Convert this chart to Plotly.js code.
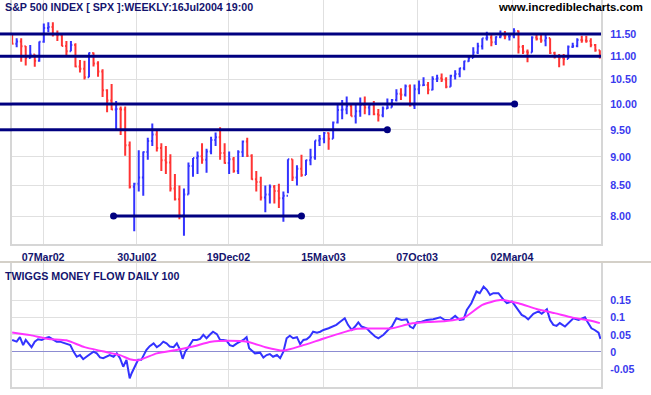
<!DOCTYPE html>
<html><head><meta charset="utf-8">
<script src="https://cdn.plot.ly/plotly-3.0.1.min.js"></script>
<style>html,body{margin:0;padding:0;background:#fff;}#chart{width:651px;height:395px;}</style>
</head><body><div id="chart"></div>
<script>
// ---- weekly S&P 500 bars (index / 100), week ending Fridays from 18 Jan 2002 ----
const firstWeek = '2002-01-18';
const firstOpen = 11.45;
const weekHigh = [
11.50,11.40,11.40,11.23,11.25,11.04,11.33,11.74,11.77,11.77,
11.58,11.50,11.34,11.34,11.29,10.92,10.90,11.08,11.08,10.89,
10.72,10.30,10.41,10.06,9.95,9.95,9.28,8.55,9.12,9.10,
9.35,9.62,9.50,9.25,9.20,9.05,8.70,8.50,8.45,8.90,
8.98,9.10,9.25,9.15,9.37,9.45,9.55,9.25,9.10,9.00,
9.12,9.30,9.35,9.05,8.75,8.65,8.50,8.52,8.51,8.53,
8.40,8.96,8.96,8.85,9.04,8.95,9.15,9.30,9.40,9.46,
9.45,9.66,10.00,10.08,10.15,10.00,10.00,10.13,10.15,10.00,
10.06,9.90,9.95,10.11,10.10,10.30,10.32,10.40,10.40,10.40,
10.48,10.55,10.45,10.57,10.60,10.63,10.55,10.60,10.70,10.75,
10.90,11.00,11.20,11.30,11.40,11.55,11.50,11.45,11.58,11.57,
11.52,11.63,11.58,11.25,11.15,11.45,11.50,11.48,11.48,11.40,
11.10,11.05,11.05,11.24,11.30,11.40,11.46,11.46,11.40,11.27,
11.13];
const weekLow = [
11.27,11.20,10.88,10.80,10.95,10.77,10.88,11.30,11.54,11.44,
11.34,11.22,11.03,11.11,10.76,10.65,10.50,10.55,10.78,10.56,
10.14,9.84,9.88,9.51,9.40,9.02,8.45,7.76,8.40,8.33,
8.95,9.20,9.10,8.75,8.70,8.40,8.25,7.95,7.69,8.35,
8.65,8.70,8.88,8.72,9.05,9.20,8.95,8.88,8.70,8.72,
8.70,9.00,9.00,8.60,8.40,8.25,8.06,8.20,8.20,8.13,
7.91,8.37,8.58,8.50,8.65,8.68,8.85,8.95,9.20,9.25,
9.13,9.33,9.62,9.70,9.80,9.76,9.62,9.75,9.80,9.78,
9.78,9.66,9.74,9.90,9.93,10.05,10.08,10.15,9.95,9.90,
10.20,10.38,10.20,10.28,10.45,10.45,10.32,10.35,10.50,10.55,
10.70,10.88,10.96,11.05,11.15,11.35,11.22,11.25,11.40,11.38,
11.35,11.40,11.06,11.05,10.87,11.08,11.35,11.30,11.22,11.05,
10.95,10.76,10.80,10.94,11.18,11.20,11.30,11.30,11.20,11.10,
10.95];
const weekClose = [
11.28,11.33,11.22,10.96,11.04,10.90,11.32,11.64,11.66,11.49,
11.47,11.23,11.11,11.25,10.78,10.73,10.55,11.07,10.84,10.67,
10.28,10.07,9.89,9.90,9.89,9.21,8.48,8.53,8.64,9.09,
9.29,9.41,9.16,8.94,8.90,8.45,8.27,8.01,8.35,8.84,
8.98,9.01,8.95,9.10,9.31,9.36,9.07,8.89,8.96,8.75,
9.09,9.28,9.02,8.61,8.56,8.30,8.35,8.48,8.41,8.29,
8.33,8.96,8.64,8.79,8.68,8.94,8.99,9.30,9.33,9.44,
9.33,9.64,9.88,9.89,9.96,9.76,9.86,9.98,9.93,9.99,
9.80,9.78,9.91,9.93,10.08,10.21,10.19,10.36,9.97,10.30,
10.38,10.39,10.29,10.51,10.53,10.50,10.35,10.58,10.62,10.74,
10.89,10.96,11.08,11.22,11.40,11.42,11.31,11.43,11.46,11.44,
11.45,11.57,11.21,11.10,11.08,11.42,11.39,11.35,11.41,11.07,
10.99,10.96,10.94,11.21,11.23,11.36,11.35,11.34,11.25,11.13,
11.01];

// ---- Twiggs Money Flow: readings (days after 18 Jan 2002, value) ----
const tmfDay = [
0,7,12,17,21,25,30,35,40,46,51,57,64,69,74,79,84,90,95,100,
105,110,115,120,126,131,136,141,146,151,157,162,167,172,177,182,185,190,195,200,
208,213,219,224,229,234,239,244,250,255,260,264,268,273,280,286,291,296,301,306,
311,317,322,327,332,337,342,348,353,358,363,367,371,376,384,389,394,399,404,410,
415,420,425,430,435,441,446,451,456,461,466,472,477,482,490,495,502,508,515,520,
526,531,536,541,549,554,562,567,575,582,588,595,603,611,616,621,626,634,642,652,
663,670,678,686,693,699,704,711,719,724,730,735,740,745,753,761,766,774,779,784,
789,794,799,807,815,820,828,833,838,843,848,856,861,869,877,887,892,897,902,908,
911];
const tmfValue = [
0.035,0.030,0.043,0.020,0.035,0.027,0.014,0.030,0.037,0.035,0.040,0.043,0.035,0.030,0.030,0.027,0.025,0.020,0.001,-0.014,
-0.009,-0.021,-0.014,-0.006,0.001,-0.004,-0.016,-0.018,-0.014,-0.009,-0.014,-0.004,-0.018,-0.043,-0.023,-0.077,-0.062,-0.043,-0.023,-0.023,
0.006,0.017,0.025,0.014,0.020,0.030,0.025,0.016,0.014,0.025,0.006,-0.020,0.001,0.014,0.035,0.035,0.038,0.050,0.040,0.050,
0.059,0.052,0.035,0.035,0.033,0.020,0.017,0.025,0.030,0.035,0.043,0.011,0.004,-0.004,-0.002,-0.016,-0.009,-0.006,-0.014,-0.009,
-0.018,0.001,0.040,0.047,0.040,0.043,0.023,0.035,0.037,0.045,0.059,0.056,0.059,0.064,0.069,0.074,0.079,0.088,0.098,0.079,
0.064,0.074,0.086,0.074,0.069,0.059,0.045,0.040,0.050,0.064,0.074,0.098,0.093,0.095,0.074,0.069,0.086,0.088,0.093,0.095,
0.101,0.093,0.093,0.105,0.093,0.095,0.122,0.142,0.176,0.171,0.190,0.181,0.166,0.171,0.171,0.152,0.142,0.147,0.134,0.122,
0.108,0.103,0.095,0.111,0.118,0.111,0.124,0.093,0.079,0.076,0.084,0.074,0.084,0.098,0.093,0.101,0.084,0.069,0.064,0.056,
0.038];
// signal line read at chosen weeks
const signalWeek = [0,4,8,12,16,20,24,26,28,32,36,40,44,48,52,56,60,64,68,72,76,80,84,88,92,96,100,104,108,112,116,120,124,128,130];
const signalValue = [0.057,0.049,0.038,0.034,0.014,0.002,-0.010,-0.021,-0.024,-0.004,0.005,0.016,0.030,0.033,0.030,0.014,0.004,0.018,0.035,0.052,0.067,0.068,0.069,0.082,0.087,0.090,0.100,0.137,0.151,0.142,0.125,0.113,0.100,0.091,0.084];

// ---- axes ----
const dateTicks = ['2002-03-07','2002-07-30','2002-12-19','2003-05-15','2003-10-07','2004-03-02'];
const dateTickText = ['07Mar02','30Jul02','19Dec02','15May03','07Oct03','02Mar04'];
const priceTicks = [8,8.5,9,9.5,10,10.5,11,11.5];
const priceTickText = ['8.00','8.50','9.00','9.50','10.00','10.50','11.00','11.50'];
const tmfTicks = [-0.05,0,0.05,0.1,0.15];
const tmfTickText = ['-0.05','0','0.05','0.1','0.15'];

// ---- trend lines drawn on the chart ----
const trendValue = [11.5, 11.0, 10.0, 9.5, 8.0];
const trendStart = [null, null, null, null, '2002-06-24'];
const trendEnd = ['2004-07-18','2004-07-18','2004-03-06','2003-08-22','2003-04-11'];

// ------------------------------------------------------------------
function addDays(s, n){const d=new Date(s+'T00:00:00Z');d.setUTCDate(d.getUTCDate()+n);return d.toISOString().slice(0,10);}
const weeks = weekClose.map((_, i) => addDays(firstWeek, 7*i));
const weekOpen = weekClose.map((c, i) => i === 0 ? firstOpen : weekClose[i-1]);
const tmfDates = tmfDay.map(d => addDays(firstWeek, d));

const NAVY = '#000080';
const LBL = '#14146e';
const XR = ['2002-01-17 18:00', '2004-07-17 19:00'];
const FONT = 'Liberation Sans, Arial, sans-serif';
const LEFTPAD = -12/589;

const traces = [];
trendValue.forEach((v, k) => {
  traces.push({type:'scatter', mode:'lines', x:[trendStart[k] || '2001-12-01', trendEnd[k]], y:[v, v],
    line:{color:NAVY, width:3}, hoverinfo:'skip', xaxis:'x', yaxis:'y'});
});
traces.push({type:'ohlc', x:weeks, open:weekOpen, high:weekHigh, low:weekLow, close:weekClose,
  increasing:{line:{color:'#3333ff', width:2}}, decreasing:{line:{color:'#ff3333', width:2}},
  tickwidth:0.3, hoverinfo:'skip', xaxis:'x', yaxis:'y'});
const dotX = [], dotY = [];
trendValue.forEach((v, k) => { dotX.push(trendEnd[k]); dotY.push(v); if (trendStart[k]) { dotX.push(trendStart[k]); dotY.push(v); } });
traces.push({type:'scatter', mode:'markers', x:dotX, y:dotY, marker:{color:NAVY, size:7}, cliponaxis:false, hoverinfo:'skip', xaxis:'x', yaxis:'y'});
traces.push({type:'scatter', mode:'lines', x:tmfDates, y:tmfValue, line:{color:'#3333ff', width:2}, hoverinfo:'skip', xaxis:'x2', yaxis:'y2'});
traces.push({type:'scatter', mode:'lines', x:signalWeek.map(i => weeks[i]), y:signalValue, line:{color:'#ff33ff', width:2, shape:'spline', smoothing:0.6}, hoverinfo:'skip', xaxis:'x2', yaxis:'y2'});

const shapes = [];
trendValue.forEach((v, k) => { if (!trendStart[k]) shapes.push({type:'line', xref:'paper', yref:'y', x0:LEFTPAD, x1:0, y0:v, y1:v, line:{color:NAVY, width:3}}); });
shapes.push({type:'line', xref:'paper', yref:'paper', x0:LEFTPAD, x1:639/589, y0:125/387, y1:125/387, line:{color:'#d4d0c8', width:2}});

const gridC = '#e0e0e0', frameC = '#d6d6d6';
const layout = {
  width:651, height:395, margin:{l:12, r:50, t:0, b:8},
  paper_bgcolor:'#ffffff', plot_bgcolor:'#ffffff', showlegend:false,
  font:{family:FONT, size:11, color:LBL},
  xaxis:{type:'date', range:XR, anchor:'y', tickmode:'array', tickvals:dateTicks, ticktext:dateTickText,
    showgrid:true, gridcolor:gridC, gridwidth:1, showline:true, linecolor:frameC, linewidth:2, ticks:'', zeroline:false,
    tickfont:{family:FONT, size:10.7, color:LBL, weight:'bold'}, rangeslider:{visible:false}, ticklabelstandoff:2, fixedrange:true},
  yaxis:{domain:[1-244/387, 1], type:'log', range:[0.87885, 1.0901], side:'right', tickmode:'array', tickvals:priceTicks, ticktext:priceTickText,
    showgrid:true, gridcolor:gridC, showline:true, mirror:true, linecolor:frameC, linewidth:2, ticks:'', zeroline:false,
    tickfont:{family:FONT, size:10.7, color:'#3a3aee', weight:'bold'}, ticklabelstandoff:5, fixedrange:true},
  xaxis2:{type:'date', range:XR, anchor:'y2', tickmode:'array', tickvals:dateTicks, showticklabels:false,
    showgrid:true, gridcolor:gridC, showline:true, linecolor:frameC, linewidth:2, ticks:'', zeroline:false, fixedrange:true},
  yaxis2:{domain:[0, 124/387], range:[-0.102, 0.259], side:'right', tickmode:'array', tickvals:tmfTicks, ticktext:tmfTickText,
    showgrid:true, gridcolor:gridC, zeroline:true, zerolinecolor:'#8c8cd2', zerolinewidth:1, showline:true, mirror:true, linecolor:frameC, linewidth:2, ticks:'',
    tickfont:{family:FONT, size:10.7, color:'#3a3aee', weight:'bold'}, ticklabelstandoff:5, fixedrange:true},
  shapes:shapes,
  annotations:[
    {text:'S&amp;P 500 INDEX [ SPX ]:WEEKLY:16Jul2004 19:00', xref:'paper', yref:'paper', x:0, y:1, xanchor:'left', yanchor:'top', xshift:-9, yshift:1, showarrow:false,
      font:{family:FONT, size:10.7, color:LBL, weight:'bold'}},
    {text:'www.incrediblecharts.com', xref:'paper', yref:'paper', x:1, y:1, xanchor:'right', yanchor:'top', xshift:44, yshift:1, showarrow:false,
      font:{family:FONT, size:11.4, color:'#000000', weight:'bold'}},
    {text:'TWIGGS MONEY FLOW DAILY 100', xref:'paper', yref:'paper', x:0, y:124/387, xanchor:'left', yanchor:'top', xshift:-9, yshift:-5, showarrow:false,
      font:{family:FONT, size:10.7, color:LBL, weight:'bold'}}
  ]
};
Plotly.newPlot('chart', traces, layout, {staticPlot:true, displayModeBar:false});
</script></body></html>
